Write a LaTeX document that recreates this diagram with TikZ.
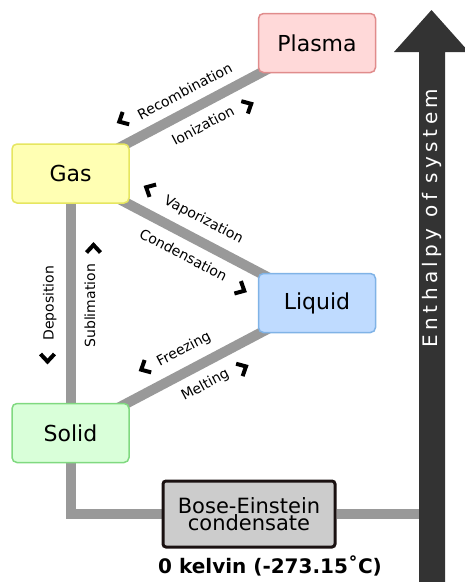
\documentclass[tikz,border=0pt]{standalone}
\usepackage{fontspec}
\setmainfont{DejaVu Sans}
\usetikzlibrary{backgrounds}
\definecolor{plasmafill}{HTML}{FFD9D9}
\definecolor{plasmaline}{HTML}{E08C8C}
\definecolor{gasfill}{HTML}{FFFFB3}
\definecolor{gasline}{HTML}{E6E660}
\definecolor{liquidfill}{HTML}{BFDBFF}
\definecolor{liquidline}{HTML}{80B3E6}
\definecolor{solidfill}{HTML}{D9FFD9}
\definecolor{solidline}{HTML}{80D980}
\definecolor{becfill}{HTML}{CCCCCC}
\definecolor{becline}{HTML}{1A1111}
\definecolor{linkgray}{HTML}{999999}
\definecolor{arrowdark}{HTML}{333333}
\newsavebox\chevbackbox
\newsavebox\chevfwdbox
\newcommand{\chevmark}[3]{\begin{pgfpicture}\pgfsetlinewidth{4pt}\pgfsetmiterjoin
 \pgfpathmoveto{\pgfpoint{#1}{7pt}}\pgfpathlineto{\pgfpoint{#2}{0pt}}\pgfpathlineto{\pgfpoint{#3}{-7pt}}\pgfusepath{stroke}\end{pgfpicture}}

\begin{document}
\sbox\chevbackbox{\chevmark{7.5pt}{0pt}{7.5pt}}%
\sbox\chevfwdbox{\chevmark{0pt}{7.5pt}{0pt}}%
\begin{tikzpicture}[x=1pt,y=-1pt,
state node/.style={draw,rounded corners=5pt,line width=1.5pt,minimum width=117pt,minimum height=59pt,font=\fontsize{22}{22}\selectfont},
bec node/.style={draw=becline,fill=becfill,rounded corners=3pt,line width=3pt,minimum width=172pt,minimum height=66pt,align=center,font=\fontsize{21}{15}\selectfont},
change/.style={line width=10pt,linkgray},
change label/.style={sloped,inner sep=1pt,text=black,font=\fontsize{14}{14}\selectfont},
chevron/.style={sloped,inner sep=0pt,text=black}]
\useasboundingbox (0,0) rectangle (465,582);
\node[state node,fill=plasmafill,draw=plasmaline] (plasma) at (317,43) {Plasma};
\node[state node,fill=gasfill,draw=gasline] (gas) at (70.5,173.5) {Gas};
\node[state node,fill=liquidfill,draw=liquidline] (liquid) at (317,303) {Liquid};
\node[state node,fill=solidfill,draw=solidline] (solid) at (70.5,433) {Solid};
\node[bec node] (bec) at (249,514) {Bose-Einstein\\condensate};
\node[font=\bfseries\fontsize{20}{20}\selectfont] (zero) at (270,566) {0 kelvin (-273.15˚C)};
\fill[arrowdark] (419,582) -- (419,52) -- (394,52) -- (431.5,10) -- (469,52) -- (445,52) -- (445,582) -- cycle;
\coordinate (axis) at (419,514);
\node[rotate=90,text=white,font=\addfontfeature{LetterSpace=22}\fontsize{20}{20}\selectfont] (enthalpy) at (432,218) {Enthalpy of system};
\begin{scope}[on background layer]
\draw[change] (gas.center) -- (plasma.center)
 node[change label,pos=.5,above=8pt] {Recombination}
 node[chevron,pos=.255,above=9pt] {\usebox\chevbackbox}
 node[change label,pos=.5,below=8pt] {Ionization}
 node[chevron,pos=.676,below=9pt] {\usebox\chevfwdbox};
\draw[change] (gas.center) -- (liquid.center)
 node[change label,pos=.5,above=8pt] {Vaporization}
 node[chevron,pos=.277,above=9pt] {\usebox\chevbackbox}
 node[change label,pos=.495,below=8pt] {Condensation}
 node[chevron,pos=.735,below=9pt] {\usebox\chevfwdbox};
\draw[change] (solid.center) -- (gas.center)
 node[change label,pos=.5,above=8pt] {Deposition}
 node[chevron,pos=.29,above=9pt] {\usebox\chevbackbox}
 node[change label,pos=.49,below=8pt] {Sublimation}
 node[chevron,pos=.71,below=9pt] {\usebox\chevfwdbox};
\draw[change] (solid.center) -- (liquid.center)
 node[change label,pos=.5,above=8pt] {Freezing}
 node[chevron,pos=.344,above=9pt] {\usebox\chevbackbox}
 node[change label,pos=.508,below=8pt] {Melting}
 node[chevron,pos=.655,below=9pt] {\usebox\chevfwdbox};
\draw[change] (solid) |- (bec);
\draw[change] (bec) -- (axis);
\end{scope}
\end{tikzpicture}
\end{document}
